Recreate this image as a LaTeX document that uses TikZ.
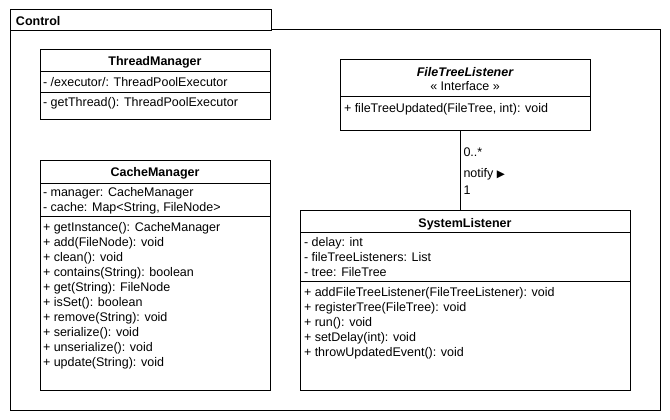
\documentclass[tikz,border=0pt]{standalone}
\usepackage{fontspec}
\setmainfont{Liberation Sans}
\newfontfamily\symfont{DejaVu Sans}
\begin{document}
\begin{tikzpicture}[x=1pt,y=-1pt,
  every node/.style={inner sep=0pt, outer sep=0pt},
  txt/.style={anchor=base west, font=\fontsize{12.5}{15}\selectfont},
  ttl/.style={anchor=base, font=\fontsize{12.5}{15}\selectfont\bfseries},
  sub/.style={anchor=base, font=\fontsize{12.5}{15}\selectfont},
  box/.style={draw, line width=1pt, anchor=north west, fill=white},
  rule/.style={line width=1pt},
]
\useasboundingbox (0,0) rectangle (670,420);
% package
\node[box, minimum width=650pt, minimum height=380pt] (pkg) at (10,30) {};
\node[box, minimum width=261pt, minimum height=21pt] (tab) at (10,10) {};
\node[txt, font=\fontsize{12.5}{15}\selectfont\bfseries] (tabt) at (16,25.5) {Control};

% ThreadManager
\node[box, minimum width=230pt, minimum height=70pt] (tm) at (40,50) {};
\draw[rule] (40,72) -- (270,72);
\draw[rule] (40,93) -- (270,93);
\node[ttl] (tmt) at (155,65.5) {ThreadManager};
\node[txt] (tma1) at (43,87) {- /executor/: ThreadPoolExecutor};
\node[txt] (tmm1) at (43,106.5) {- getThread(): ThreadPoolExecutor};

% CacheManager
\node[box, minimum width=230pt, minimum height=230pt] (cm) at (40,160) {};
\draw[rule] (40,183) -- (270,183);
\draw[rule] (40,216.5) -- (270,216.5);
\node[ttl] (cmt) at (155,176.5) {CacheManager};
\node[txt] (cma1) at (43,196.5) {- manager: CacheManager};
\node[txt] (cma2) at (43,211.5) {- cache: Map<String, FileNode>};
\node[txt] (cmm1) at (43,231.5) {+ getInstance(): CacheManager};
\node[txt] (cmm2) at (43,246.5) {+ add(FileNode): void};
\node[txt] (cmm3) at (43,261.5) {+ clean(): void};
\node[txt] (cmm4) at (43,276.5) {+ contains(String): boolean};
\node[txt] (cmm5) at (43,291.5) {+ get(String): FileNode};
\node[txt] (cmm6) at (43,306.5) {+ isSet(): boolean};
\node[txt] (cmm7) at (43,321.5) {+ remove(String): void};
\node[txt] (cmm8) at (43,336.5) {+ serialize(): void};
\node[txt] (cmm9) at (43,351.5) {+ unserialize(): void};
\node[txt] (cmm10) at (43,366.5) {+ update(String): void};

% FileTreeListener
\node[box, minimum width=250pt, minimum height=70pt] (ftl) at (340,60) {};
\draw[rule] (340,97) -- (590,97);
\node[ttl, font=\fontsize{12.5}{15}\selectfont\bfseries\itshape] (ftlt) at (465,76.5) {FileTreeListener};
\node[sub] (ftls) at (465,90.5) {« Interface »};
\node[txt] (ftlm1) at (344,112.5) {+ fileTreeUpdated(FileTree, int): void};

% SystemListener
\node[box, minimum width=330pt, minimum height=180pt] (sl) at (300,210) {};
\draw[rule] (300,232) -- (630,232);
\draw[rule] (300,281.5) -- (630,281.5);
\node[ttl] (slt) at (465,227.5) {SystemListener};
\node[txt] (sla1) at (304,246) {- delay: int};
\node[txt] (sla2) at (304,261) {- fileTreeListeners: List};
\node[txt] (sla3) at (304,276) {- tree: FileTree};
\node[txt] (slm1) at (304,296) {+ addFileTreeListener(FileTreeListener): void};
\node[txt] (slm2) at (304,311) {+ registerTree(FileTree): void};
\node[txt] (slm3) at (304,326) {+ run(): void};
\node[txt] (slm4) at (304,341) {+ setDelay(int): void};
\node[txt] (slm5) at (304,356) {+ throwUpdatedEvent(): void};

% association
\draw[rule] ([xshift=-5pt]ftl.south) -- ([xshift=-5pt]ftl.south |- sl.north);
\node[txt] (mult1) at (463.5,157) {0..*};
\node[txt] (assoc) at (463.5,177.5) {notify {\symfont\fontsize{10.5}{12}\selectfont ▶}};
\node[txt] (mult2) at (463.5,194) {1};
\end{tikzpicture}
\end{document}
